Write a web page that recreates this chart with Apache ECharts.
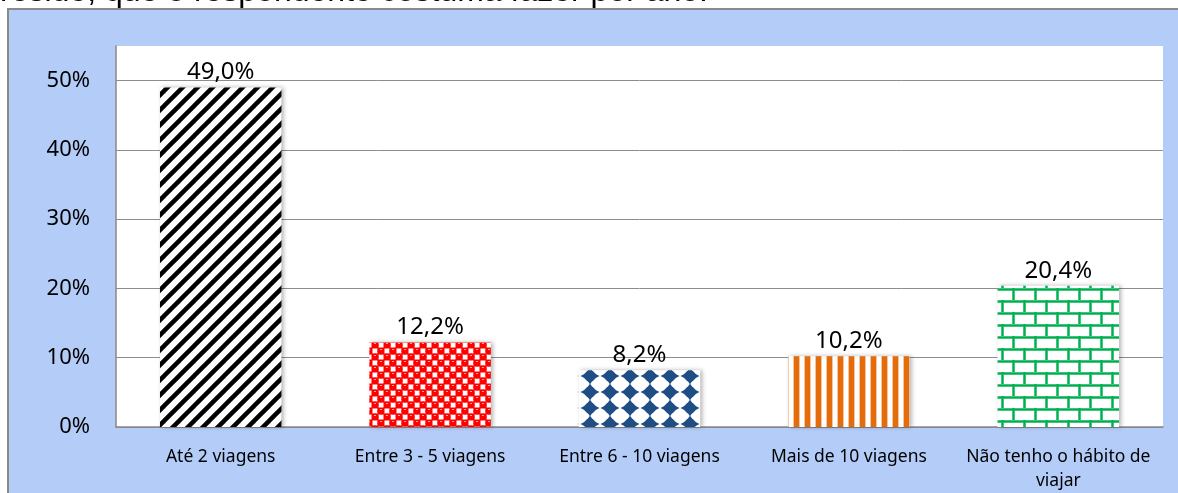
<!DOCTYPE html>
<html>
<head>
<meta charset="utf-8">
<script src="https://cdn.jsdelivr.net/npm/echarts@6/dist/echarts.min.js"></script>
<style>
  html, body { margin: 0; padding: 0; background: #fff; }
  #wrap { position: relative; width: 1178px; height: 493px; overflow: hidden; }
  #panel { position: absolute; left: 7px; top: 8px; width: 1190px; height: 500px; background: #B4CDF8; border-left: 2px solid #8a8a8a; border-top: 2px solid #8a8a8a; }
  #main { position: absolute; left: 0; top: 0; width: 1178px; height: 493px; }
</style>
</head>
<body>
<div id="wrap">
  <div id="panel"></div>
  <div id="main"></div>
</div>
<script>
// dados do gráfico
var categories = ['Até 2 viagens', 'Entre 3 - 5 viagens', 'Entre 6 - 10 viagens', 'Mais de 10 viagens', 'Não tenho o hábito de\nviajar'];
var values = [49.0, 12.2, 8.2, 10.2, 20.4];
var yTicks = [0, 10, 20, 30, 40, 50];
var headText = 'reside, que o respondente costuma fazer por ano.';

// texturas das barras
function tile(w, h, draw) {
  var c = document.createElement('canvas');
  c.width = w;
  c.height = h;
  var ctx = c.getContext('2d');
  ctx.fillStyle = '#fff';
  ctx.fillRect(0, 0, w, h);
  draw(ctx);
  return { image: c, repeat: 'repeat' };
}

var stripes = tile(15, 15, function (ctx) {
  ctx.strokeStyle = '#000';
  ctx.lineWidth = 4.5;
  for (var x = -15; x <= 15; x += 15) {
    ctx.beginPath();
    ctx.moveTo(x - 2, 17);
    ctx.lineTo(x + 17, -2);
    ctx.stroke();
  }
});

var redDots = tile(12, 12, function (ctx) {
  ctx.fillStyle = '#ff0000';
  ctx.fillRect(0, 0, 12, 12);
  ctx.fillStyle = '#fff';
  ctx.fillRect(0.5, 0.5, 5, 5);
  ctx.fillRect(6.5, 6.5, 5, 5);
  ctx.fillStyle = '#ff0000';
  ctx.beginPath(); ctx.arc(9, 3, 3.6, 0, Math.PI * 2); ctx.fill();
  ctx.beginPath(); ctx.arc(3, 9, 3.6, 0, Math.PI * 2); ctx.fill();
  ctx.fillStyle = '#ffa0a0';
  ctx.fillRect(8, 1, 2, 1);
  ctx.fillRect(2, 7, 2, 1);
});

var blueDiamonds = tile(20, 16, function (ctx) {
  ctx.fillStyle = '#1F4E85';
  ctx.beginPath();
  ctx.moveTo(10, -0.5);
  ctx.quadraticCurveTo(13, 5, 19.5, 8);
  ctx.quadraticCurveTo(13, 11, 10, 16.5);
  ctx.quadraticCurveTo(7, 11, 0.5, 8);
  ctx.quadraticCurveTo(7, 5, 10, -0.5);
  ctx.fill();
  ctx.beginPath();
  ctx.arc(10, 8, 5.5, 0, Math.PI * 2);
  ctx.fill();
});

var orangeLines = tile(11, 4, function (ctx) {
  ctx.fillStyle = '#f6c39a';
  ctx.fillRect(1, 0, 7, 4);
  ctx.fillStyle = '#E46C0A';
  ctx.fillRect(2, 0, 5, 4);
});

var greenBricks = tile(22, 24, function (ctx) {
  ctx.fillStyle = '#7fd9a6';
  ctx.fillRect(0, 0, 22, 3);
  ctx.fillRect(0, 12, 22, 3);
  ctx.fillRect(0, 0, 3, 12);
  ctx.fillRect(11, 12, 3, 12);
  ctx.fillStyle = '#00B050';
  ctx.fillRect(0, 0.5, 22, 2);
  ctx.fillRect(0, 12.5, 22, 2);
  ctx.fillRect(0.5, 0, 2, 12);
  ctx.fillRect(11.5, 12, 2, 12);
});

var patterns = [stripes, redDots, blueDiamonds, orangeLines, greenBricks];

var myChart = echarts.init(document.getElementById('main'));

var data = [];
for (var i = 0; i < values.length; i++) {
  data.push({
    value: values[i],
    itemStyle: { color: patterns[i] }
  });
}

var option = {
  backgroundColor: 'transparent',
  animation: false,
  textStyle: { fontFamily: 'Noto Sans' },
  graphic: [
    {
      type: 'text',
      left: 0,
      top: -24,
      style: {
        text: headText,
        font: '32px "Liberation Sans"',
        fill: '#000'
      }
    }
  ],
  grid: {
    left: 116,
    right: 15,
    top: 46,
    bottom: 63,
    show: true,
    backgroundColor: '#fff',
    borderWidth: 0
  },
  xAxis: {
    type: 'category',
    data: categories,
    axisLine: { show: true, lineStyle: { color: '#888', width: 1.5 } },
    axisTick: { show: false },
    axisLabel: {
      color: '#000',
      fontSize: 17.5,
      margin: 18,
      lineHeight: 24,
      interval: 0
    }
  },
  yAxis: {
    type: 'value',
    min: yTicks[0],
    max: 55,
    interval: 10,
    axisLine: { show: true, lineStyle: { color: '#888', width: 1.5 } },
    axisTick: { show: false },
    axisLabel: {
      color: '#000',
      fontSize: 22,
      margin: 26,
      showMaxLabel: false,
      formatter: function (v) { return yTicks.indexOf(v) >= 0 ? v + '%' : ''; }
    },
    splitLine: { show: true, showMaxLine: false, lineStyle: { color: '#8c8c8c', width: 1 } }
  },
  series: [
    {
      type: 'bar',
      data: data,
      barWidth: '58%',
      itemStyle: {
        shadowColor: 'rgba(0,0,0,0.3)',
        shadowBlur: 4,
        shadowOffsetX: 2
      },
      label: {
        show: true,
        position: 'top',
        distance: 3,
        color: '#000',
        fontSize: 24,
        formatter: function (p) { return p.value.toFixed(1).replace('.', ',') + '%'; }
      }
    }
  ]
};

myChart.setOption(option);
</script>
</body>
</html>
